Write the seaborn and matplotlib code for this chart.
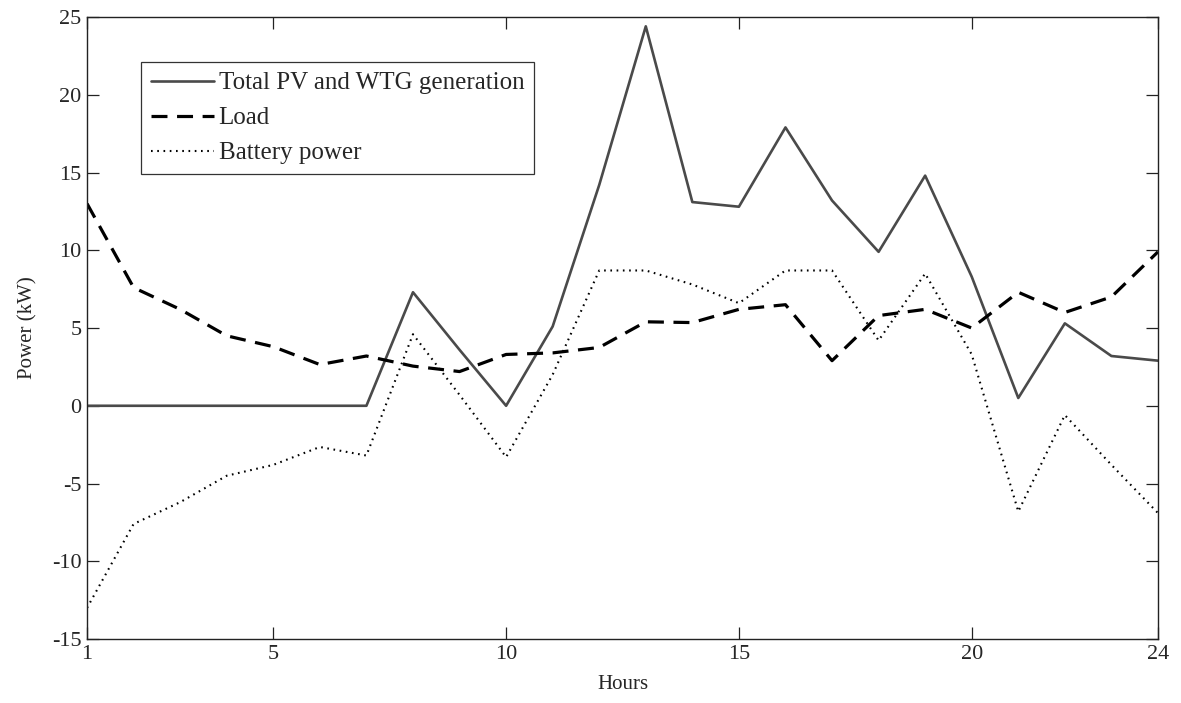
import matplotlib
matplotlib.use("Agg")
import matplotlib.pyplot as plt
import seaborn as sns
import pandas as pd

# Hourly power profile (kW)
hours = list(range(1, 25))
generation = [0, 0, 0, 0, 0, 0, 0, 7.3, 3.6, 0, 5.1, 14.2, 24.4, 13.1, 12.8,
              17.9, 13.2, 9.9, 14.8, 8.3, 0.5, 5.3, 3.2, 2.9]
load = [13.0, 7.6, 6.2, 4.5, 3.8, 2.65, 3.2, 2.55, 2.2, 3.3, 3.4, 3.75, 5.4,
        5.35, 6.2, 6.5, 2.9, 5.8, 6.2, 5.0, 7.3, 6.0, 7.0, 9.9]
battery = [-13.0, -7.6, -6.2, -4.5, -3.8, -2.65, -3.2, 4.6, 0.7, -3.3, 2.0,
           8.7, 8.7, 7.8, 6.6, 8.7, 8.7, 4.2, 8.5, 3.3, -6.8, -0.6, -3.8, -6.9]

series_names = ["Total PV and WTG generation", "Load", "Battery power"]
x_ticks = [1, 5, 10, 15, 20, 24]
y_ticks = [-15, -10, -5, 0, 5, 10, 15, 20, 25]

sns.set_style("white")
plt.rcParams["font.family"] = ["Liberation Serif", "DejaVu Serif"]
plt.rcParams["axes.unicode_minus"] = False

df = pd.DataFrame({"Hours": hours, "gen": generation, "load": load, "bat": battery})

fig = plt.figure(figsize=(11.81, 7.03), dpi=100)
ax = fig.add_axes([0.0737, 0.091, 0.9068, 0.8848])

sns.lineplot(data=df, x="Hours", y="gen", ax=ax, color="#4a4a4a",
             linewidth=1.9, label=series_names[0])
sns.lineplot(data=df, x="Hours", y="load", ax=ax, color="black",
             linewidth=2.3, label=series_names[1])
sns.lineplot(data=df, x="Hours", y="bat", ax=ax, color="black",
             linewidth=1.5, label=series_names[2])

ax.lines[1].set_dashes([5, 3])
ax.lines[2].set_dashes([0.8, 2.2])

ax.set_xlim(1, 24)
ax.set_ylim(-15, 25)
ax.set_xticks(x_ticks)
ax.set_yticks(y_ticks)
ax.set_xlabel("Hours", fontsize=15, labelpad=8)
ax.set_ylabel("Power (kW)", fontsize=15, labelpad=10)
ax.tick_params(axis="both", which="major", direction="in", length=8.5,
               width=0.9, labelsize=16, top=True, right=True,
               bottom=True, left=True, color="#222222", pad=4)
for s in ax.spines.values():
    s.set_visible(True)
    s.set_color("#222222")
    s.set_linewidth(1.0)

leg = ax.legend(loc="upper left", bbox_to_anchor=(0.0504, 0.9277),
                borderaxespad=0, fontsize=18, frameon=True, fancybox=False,
                shadow=False, handlelength=2.5, handletextpad=0.2,
                labelspacing=0.5, borderpad=0.4)
leg.get_frame().set_edgecolor("black")
leg.get_frame().set_linewidth(0.9)

fig.savefig("out.png", dpi=100)
